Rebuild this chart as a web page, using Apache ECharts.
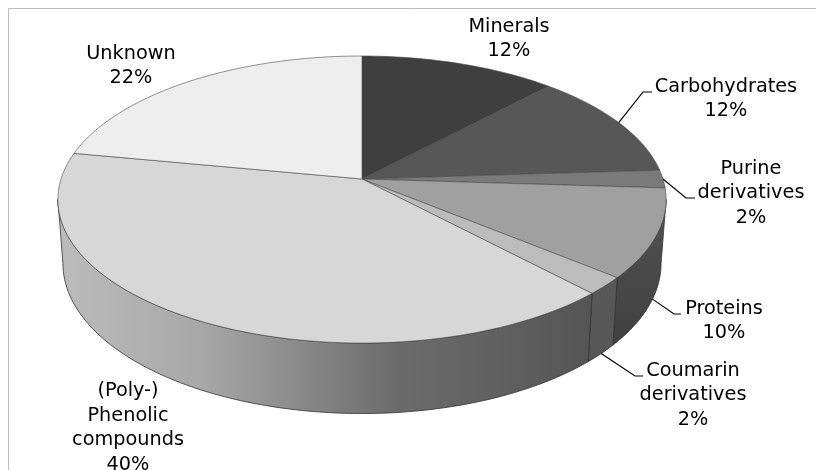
<!DOCTYPE html>
<html>
<head>
<meta charset="utf-8">
<style>html,body{margin:0;padding:0;background:#fff}#c{width:816px;height:470px}</style>
<script src="https://cdn.jsdelivr.net/npm/echarts@6/dist/echarts.min.js"></script>
</head>
<body>
<div id="c"></div>
<script>
// --- data ---
const names = ['Minerals','Carbohydrates','Purine\nderivatives','Proteins','Coumarin\nderivatives','(Poly-)\nPhenolic\ncompounds','Unknown'];
const values = [12,12,2,10,2,40,22];
// --- styles / layout ---
const topColors = ['#3f3f3f','#575757','#7a7a7a','#a0a0a0','#bcbcbc','#d7d7d7','#eeeeee'];
const labelPos = [[509,39],[726,99],[751,193],[724,321],[693,395],[128,428],[131,66]];
const leaderMid = [null,[643,92],[686,198],[674,314],[635,376],null,null];
const leaderEnd = [null,[652,92],[695,198],[681,314],[643,376],null,null];
const leaderOnBase = [false,false,false,true,true,false,false];

const K = 0.143;
const TOP = {cx:362, cy:179, a:301, b:140.6};
const BASE = {cx:362, cy:242, a:296, b:147};
const total = values.reduce((s,v)=>s+v,0);
const spans = []; let acc = 0;
values.forEach(v=>{ spans.push([acc/total*360,(acc+v)/total*360]); acc+=v; });

function pt(p,deg){
  const t=deg*Math.PI/180, u=Math.sin(t), v=-Math.cos(t), w=1-K*v;
  return [p.cx+p.a*u/w, p.cy+p.b*v/w];
}
function arc(p,d0,d1){
  const n=Math.max(2,Math.ceil(Math.abs(d1-d0)/1.5)), out=[];
  for(let i=0;i<=n;i++) out.push(pt(p,d0+(d1-d0)*i/n));
  return out;
}
const TAN0 = 98.2, TAN1 = 261.8;
function wallFill(i){
  if(i===5) return {type:'linear',x:57,y:0,x2:592,y2:0,global:true,colorStops:[
    {offset:0,color:'#bcbcbc'},{offset:0.27,color:'#a8a8a8'},{offset:0.63,color:'#6c6c6c'},{offset:1,color:'#555555'}]};
  if(i===4) return '#575757';
  return {type:'linear',x:0,y:215,x2:0,y2:345,global:true,colorStops:[{offset:0,color:'#505050'},{offset:1,color:'#404040'}]};
}
const edge = {stroke:'#333333',lineWidth:0.8};

const chart = echarts.init(document.getElementById('c'),null,{renderer:'canvas'});
chart.setOption({
  animation:false,
  backgroundColor:'#ffffff',
  graphic:[
    {type:'line',shape:{x1:8.5,y1:8.5,x2:816,y2:8.5},style:{stroke:'#bdbdbd',lineWidth:1},silent:true},
    {type:'line',shape:{x1:8.5,y1:8.5,x2:8.5,y2:470},style:{stroke:'#bdbdbd',lineWidth:1},silent:true}
  ],
  series:[
    {type:'custom',coordinateSystem:'none',silent:true,z:1,
      data:values.map((v,i)=>[i,v]),
      renderItem(params,api){
        const i=api.value(0);
        const d0=Math.max(spans[i][0],TAN0), d1=Math.min(spans[i][1],TAN1);
        if(d1<=d0) return {type:'group',children:[]};
        const pts=arc(TOP,d0,d1).concat(arc(BASE,d1,d0));
        return {type:'polygon',shape:{points:pts},style:Object.assign({fill:wallFill(i)},edge)};
      }},
    {type:'custom',coordinateSystem:'none',silent:true,z:2,
      data:values.map((v,i)=>[i,v]),
      renderItem(params,api){
        const i=api.value(0);
        const pts=[[TOP.cx,TOP.cy]].concat(arc(TOP,spans[i][0],spans[i][1]));
        return {type:'polygon',shape:{points:pts},style:{fill:topColors[i],stroke:'#4a4a4a',lineWidth:0.6}};
      }},
    {type:'custom',coordinateSystem:'none',silent:true,z:3,
      data:values.map((v,i)=>[i,v]),
      renderItem(params,api){
        const i=api.value(0), children=[];
        if(leaderMid[i]){
          const start=pt(leaderOnBase[i]?BASE:TOP,(spans[i][0]+spans[i][1])/2);
          children.push({type:'polyline',shape:{points:[start,leaderMid[i],leaderEnd[i]]},
            style:{fill:null,stroke:'#000',lineWidth:1.2}});
        }
        const pct=Math.round(api.value(1)/total*100)+'%';
        children.push({type:'text',x:labelPos[i][0],y:labelPos[i][1],style:{
          text:names[i]+'\n'+pct,font:'19.3px "DejaVu Sans"',lineHeight:24.5,fill:'#000',
          align:'center',verticalAlign:'middle'}});
        return {type:'group',children};
      }}
  ]
});
</script>
</body>
</html>
